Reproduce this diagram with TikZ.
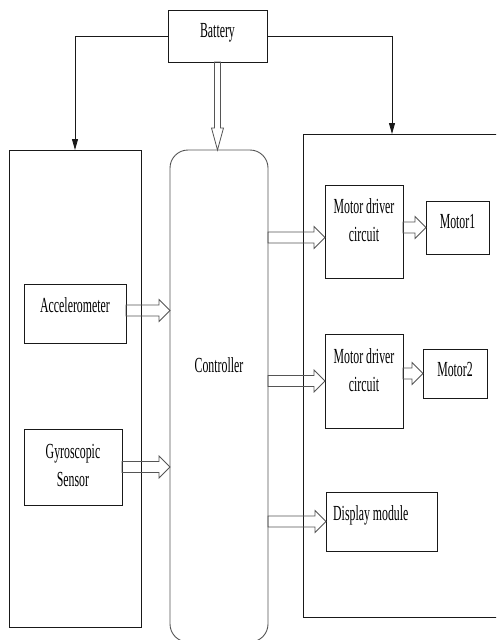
\documentclass[tikz,border=0pt]{standalone}
\usepackage{fontspec}
\setmainfont{Liberation Serif}[FakeStretch=0.55]
\usepackage{tikz}
\usetikzlibrary{arrows.meta, calc}
\definecolor{FrameBlack}{RGB}{25,25,25}
\definecolor{ArrowGray}{RGB}{85,85,85}

\begin{document}
\begin{tikzpicture}[
    x=1pt, y=-1pt,
    box/.style={rectangle, draw=FrameBlack, line width=0.9pt, inner sep=0pt, outer sep=0pt},
    txt/.style={inner sep=0pt, align=center, font=\fontsize{21.5}{28}\selectfont},
    feed/.style={-{Triangle[length=11pt, width=6pt]}, line width=0.8pt, draw=FrameBlack},
    arrw/.store in=\arrw, arrh/.store in=\arrh, arrl/.store in=\arrl,
    arrw=5.5pt, arrh=11pt, arrl=11pt,
    hollow/.style={draw=ArrowGray, line width=0.8pt, to path={
        ($(\tikztostart)!\arrw!90:(\tikztotarget)$)
        -- ($($(\tikztotarget)!\arrl!(\tikztostart)$)!\arrw!-90:(\tikztostart)$)
        -- ($($(\tikztotarget)!\arrl!(\tikztostart)$)!\arrh!-90:(\tikztostart)$)
        -- (\tikztotarget)
        -- ($($(\tikztotarget)!\arrl!(\tikztostart)$)!\arrh!90:(\tikztostart)$)
        -- ($($(\tikztotarget)!\arrl!(\tikztostart)$)!\arrw!90:(\tikztostart)$)
        -- ($(\tikztostart)!\arrw!-90:(\tikztotarget)$)
        -- cycle}}
]
\clip (0,0) rectangle (496,640);

% power source
\node[box, minimum width=99pt, minimum height=52pt,
      label={[txt, below=13pt]north:Battery}] (bat) at (217.5,36) {};

% the three main blocks
\node[box, minimum width=132pt, minimum height=477pt] (sens) at (75,388.5) {};
\node[box, draw=ArrowGray, rounded corners=18pt, minimum width=98pt, minimum height=492pt,
      label={[txt, below=207pt]north:Controller}] (ctrl) at (219,396) {};
\node[box, minimum width=197pt, minimum height=483pt] (drive) at (401.5,375.5) {};

% sensors
\node[box, minimum width=102pt, minimum height=59pt,
      label={[txt, below=13pt]north:Accelerometer}] (acc) at (75,313.5) {};
\node[box, minimum width=98pt, minimum height=76pt,
      label={[txt, below=15pt]north:Gyroscopic\\Sensor}] (gyro) at (73,467) {};

% outputs
\node[box, minimum width=78pt, minimum height=93pt,
      label={[txt, below=13pt]north:Motor driver\\circuit}] (mdcA) at (364,231.5) {};
\node[box, minimum width=63pt, minimum height=53pt,
      label={[txt, below=13pt]north:Motor1}] (motA) at (457.5,227.5) {};
\node[box, minimum width=78pt, minimum height=94pt,
      label={[txt, below=14pt]north:Motor driver\\circuit}] (mdcB) at (364,381) {};
\node[box, minimum width=64pt, minimum height=49pt,
      label={[txt, below=13pt]north:Motor2}] (motB) at (455,373.5) {};
\node[box, minimum width=111pt, minimum height=59pt,
      label={[txt, anchor=north west, xshift=7pt, yshift=-13pt]north west:Display module}] (disp) at (381.5,521.5) {};

% supply lines
\draw[feed] (bat.west) -| (sens.north);
\draw[feed] (bat.east) -| ([xshift=-9.5pt]drive.north);

% signal flow
\draw[hollow, arrw=3pt, arrh=6pt, arrl=22pt] (bat.south) to (bat.south |- ctrl.north);
\draw[hollow] ([yshift=3pt]acc.east) to ([yshift=3pt]acc.east -| ctrl.west);
\draw[hollow] (gyro.east) to (gyro.east -| ctrl.west);
\draw[hollow] ([yshift=-6pt]mdcA.west -| ctrl.east) to ([yshift=-6pt]mdcA.west);
\draw[hollow] (mdcA.east |- motA.west) to (motA.west);
\draw[hollow] (mdcB.west -| ctrl.east) to (mdcB.west);
\draw[hollow] (mdcB.east |- motB.west) to (motB.west);
\draw[hollow] (disp.west -| ctrl.east) to (disp.west);
\end{tikzpicture}
\end{document}
